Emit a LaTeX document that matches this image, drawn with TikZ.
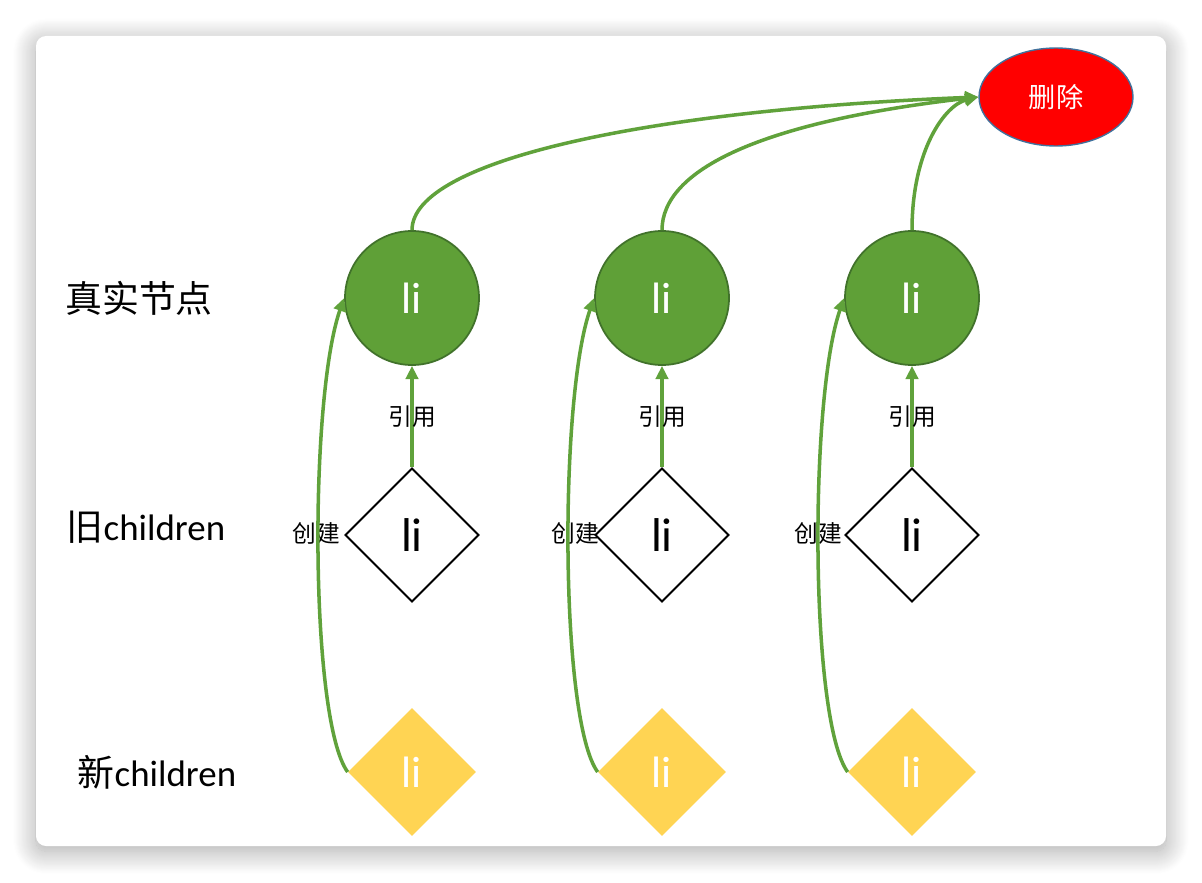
\documentclass[tikz,border=0pt]{standalone}
\usepackage{fontspec}
\setmainfont{Carlito}
\newfontfamily\cjk{Noto Sans CJK SC}
\usetikzlibrary{shapes.geometric,arrows.meta,shadows.blur,positioning}

\begin{document}
\begin{tikzpicture}[x=0.02cm, y=-0.02cm,
    real/.style={circle, draw=real_edge, fill=real_green, line width=1pt,
        minimum size=2.68cm, inner sep=0pt, text=white, font=\fontsize{25}{30}\selectfont},
    old/.style={diamond, draw=black, line width=1.1pt, minimum size=2.68cm,
        inner sep=0pt, font=\fontsize{27}{32}\selectfont},
    new/.style={diamond, fill=new_yellow, minimum size=2.56cm, inner sep=0pt,
        text=white, font=\fontsize{25}{30}\selectfont},
    rowlabel/.style={font=\fontsize{21}{25}\selectfont},
    edgelabel/.style={font=\cjk\fontsize{13.5}{16}\selectfont},
    link/.style={draw=link_green, line width=2pt, -{Triangle[length=7.5pt, width=7pt]}}
]
    \definecolor{real_green}{HTML}{5FA037}
    \definecolor{real_edge}{HTML}{41722B}
    \definecolor{link_green}{HTML}{60A23B}
    \definecolor{new_yellow}{HTML}{FFD453}
    \definecolor{del_red}{HTML}{FF0000}
    \definecolor{del_edge}{HTML}{41719C}
    \useasboundingbox (0,0) rectangle (1202,882);
    %\draw[help lines, step=50] (0,0) grid (1202,882);
    \path[fill=white, rounded corners=0.2cm,
        blur shadow={shadow xshift=0pt, shadow yshift=-3pt, shadow blur radius=13pt,
            shadow blur steps=25, shadow opacity=35}] (36,36) rectangle (1166,846);

    % row labels
    \node[rowlabel] (real_row) at (139,298) {\cjk 真实节点};
    \node[rowlabel] (old_row) at (146,527) {{\cjk 旧}children};
    \node[rowlabel] (new_row) at (157,772) {{\cjk 新}children};

    \node[ellipse, fill=del_red, draw=del_edge, line width=0.8pt, minimum width=3.08cm,
        minimum height=1.96cm, text=white, font=\cjk\fontsize{15.5}{18}\selectfont]
        (del) at (1056,97) {删除};

    \node[real] (real1) at (412,298) {li};
    \node[real] (real2) at (662,298) {li};
    \node[real] (real3) at (912,298) {li};
    \node[old] (old1) at (412,535) {li};
    \node[old] (old2) at (662,535) {li};
    \node[old] (old3) at (912,535) {li};
    \node[new] (new1) at (412,772) {li};
    \node[new] (new2) at (662,772) {li};
    \node[new] (new3) at (912,772) {li};

    \node[edgelabel] (create1) at (316,533) {创建};
    \node[edgelabel] (create2) at (575,533) {创建};
    \node[edgelabel] (create3) at (818,533) {创建};

    % references
    \draw[link] (old1.north) -- node[edgelabel] (ref1) {引用} (real1.south);
    \draw[link] (old2.north) -- node[edgelabel] (ref2) {引用} (real2.south);
    \draw[link] (old3.north) -- node[edgelabel] (ref3) {引用} (real3.south);

    % created from the new children
    \draw[link] (new1.west) .. controls +(-38,-52) and +(-35,100) .. (real1.west);
    \draw[link] (new2.west) .. controls +(-38,-52) and +(-35,100) .. (real2.west);
    \draw[link] (new3.west) .. controls +(-38,-52) and +(-35,100) .. (real3.west);

    % deleted
    \draw[link] (real1.north) .. controls (412,160) and (650,110) .. (del.west);
    \draw[link] (real2.north) .. controls (662,170) and (760,122) .. (del.west);
    \draw[link] (real3.north) .. controls (912,150) and (945,105) .. (del.west);

\end{tikzpicture}
\end{document}
